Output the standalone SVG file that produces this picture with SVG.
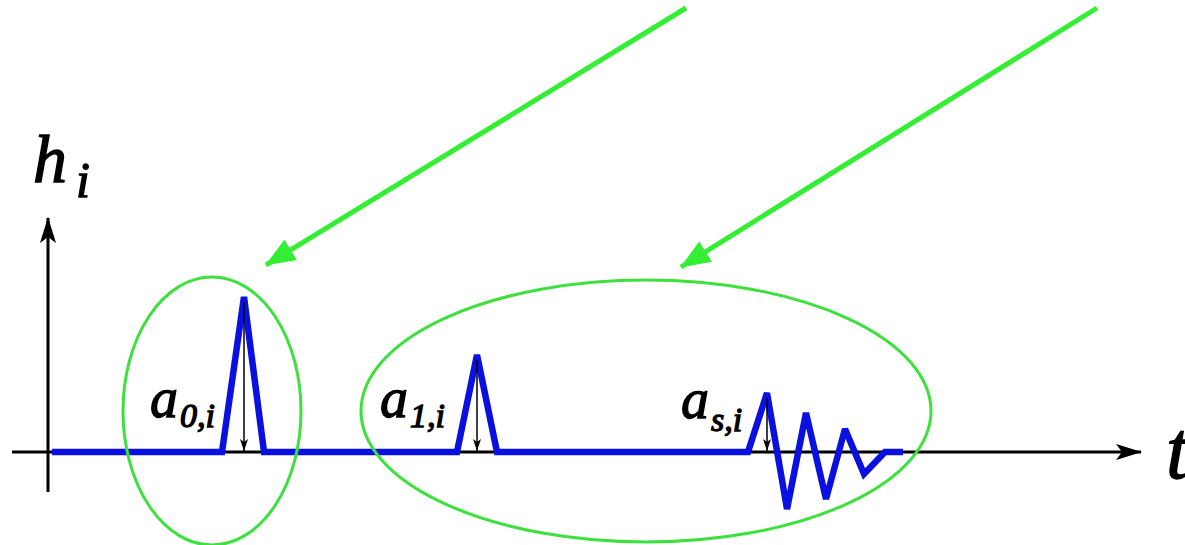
<svg xmlns="http://www.w3.org/2000/svg" width="1185" height="545" viewBox="0 0 1185 545">
<defs>
<style>
.ax{stroke:#000;stroke-width:3;fill:none}
.thin{stroke:#000;stroke-width:1.5;fill:none}
.sig{stroke:#0a10e0;stroke-width:6.5;fill:none;stroke-linejoin:miter;stroke-miterlimit:2}
.ell{stroke:#3de03d;stroke-width:3;fill:none}
.gr{stroke:#33ee33;stroke-width:5;fill:none}
.lab{font-family:"Liberation Serif","Times New Roman",serif;font-style:italic;fill:#000;stroke:#000;stroke-width:1.3}
</style>
<marker id="axh" viewBox="0 0 26 16" refX="25" refY="8" markerWidth="26" markerHeight="16" markerUnits="userSpaceOnUse" orient="auto">
<path d="M0,0 L26,8 L0,16 L6,8 Z" fill="#000"/>
</marker>
<marker id="sh" viewBox="0 0 12 8" refX="12" refY="4" markerWidth="12" markerHeight="8" markerUnits="userSpaceOnUse" orient="auto">
<path d="M0,0 L12,4 L0,8 L3,4 Z" fill="#000"/>
</marker>
<marker id="gh" viewBox="0 0 30 24" refX="29" refY="12" markerWidth="30" markerHeight="24" markerUnits="userSpaceOnUse" orient="auto">
<path d="M0,0 L30,12 L0,24 Z" fill="#33ee33"/>
</marker>
</defs>
<g id="axes">
<line class="ax" x1="12" y1="452" x2="1141" y2="452" marker-end="url(#axh)"/>
<line class="ax" x1="48" y1="492" x2="48" y2="218" marker-end="url(#axh)"/>
</g>
<g id="signal">
<polyline class="sig" points="52,452 222,452 244,297 264,452 457,452 477,355 497,452 748,452 767,393 787,509 806,413 826,499 845,429 864,474 885,452 903,452"/>
</g>
<g id="amplitudes">
<line class="thin" x1="244" y1="302" x2="244" y2="451" marker-end="url(#sh)"/>
<line class="thin" x1="477" y1="360" x2="477" y2="451" marker-end="url(#sh)"/>
<line class="thin" x1="767" y1="398" x2="767" y2="451" marker-end="url(#sh)"/>
</g>
<g id="group-direct">
<ellipse class="ell" cx="212" cy="411" rx="89" ry="134"/>
</g>
<g id="group-reflections">
<ellipse class="ell" cx="646" cy="411" rx="285" ry="131"/>
</g>
<g id="connectors">
<line class="gr" x1="686" y1="8" x2="266" y2="265" marker-end="url(#gh)"/>
<line class="gr" x1="1097" y1="8" x2="681" y2="267" marker-end="url(#gh)"/>
</g>
<g id="labels">
<text class="lab" x="33" y="182" font-size="68">h</text>
<text class="lab" x="76" y="197" font-size="50">i</text>
<text class="lab" x="1166" y="478" font-size="82">t</text>
<text class="lab" x="150" y="417" font-size="56">a</text>
<text class="lab" x="180" y="427" font-size="34">0,i</text>
<text class="lab" x="380" y="417" font-size="56">a</text>
<text class="lab" x="410" y="427" font-size="34">1,i</text>
<text class="lab" x="681" y="418" font-size="56">a</text>
<text class="lab" x="711" y="431" font-size="34">s,i</text>
</g>
</svg>
